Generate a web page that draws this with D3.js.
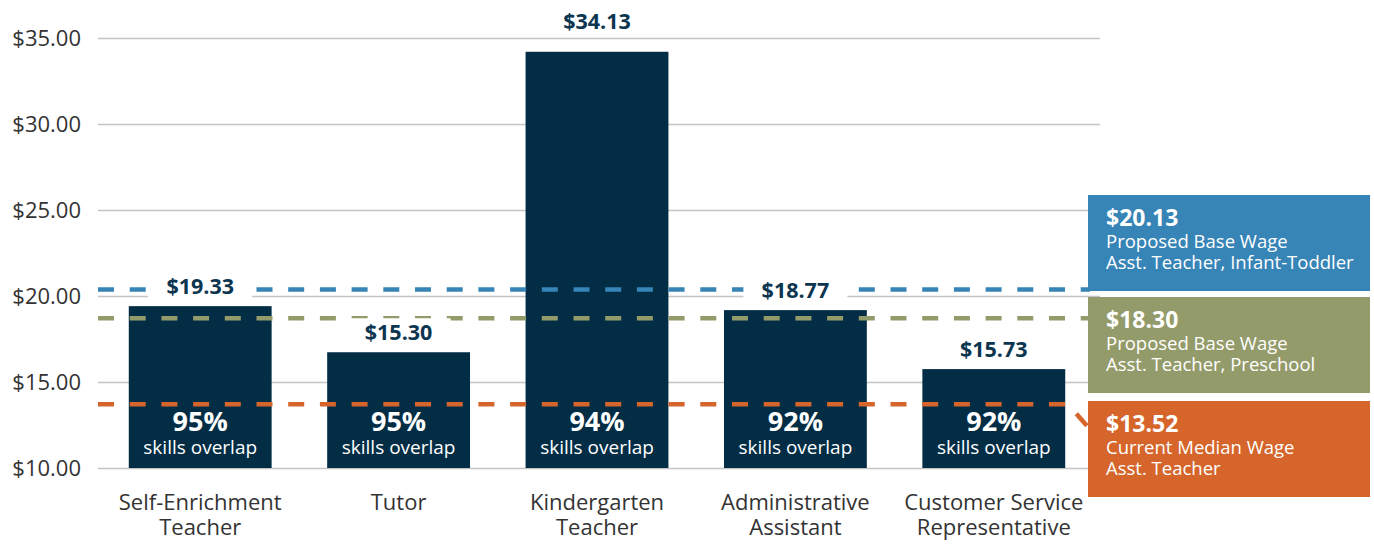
<!DOCTYPE html>
<html>
<head>
<meta charset="utf-8">
<script src="https://cdn.jsdelivr.net/npm/d3@7"></script>
<style>
  body { margin: 0; background: #fff; }
  svg { font-family: "Open Sans", Lato, sans-serif; }
</style>
</head>
<body>
<svg width="1374" height="544"></svg>
<script>
// chart data
const categories = [["Self-Enrichment", "Teacher"], ["Tutor"], ["Kindergarten", "Teacher"], ["Administrative", "Assistant"], ["Customer Service", "Representative"]];
const barValues = [19.41, 16.73, 34.2, 19.18, 15.75];
const barLabels = ["$19.33", "$15.30", "$34.13", "$18.77", "$15.73"];
const overlap = ["95%", "95%", "94%", "92%", "92%"];
const yTicks = [10, 15, 20, 25, 30, 35];

const refValues = [20.38, 18.71, 13.71];
const refLabels = ["$20.13", "$18.30", "$13.52"];
const refLine1 = ["Proposed Base Wage", "Proposed Base Wage", "Current Median Wage"];
const refLine2 = ["Asst. Teacher, Infant-Toddler", "Asst. Teacher, Preschool", "Asst. Teacher"];
const refColors = ["#3784b6", "#949b6a", "#d5652a"];

const svg = d3.select("svg");

const area = {left: 98, right: 1100, top: 38, bottom: 468};

const scX = d3.scaleBand()
              .domain(d3.range(categories.length))
              .range([101, 1093])
              .paddingInner(0.28)
              .paddingOuter(0.14);

const scY = d3.scaleLinear()
              .domain([10, 35])
              .range([area.bottom, area.top]);

// grid + y labels
const axisY = d3.axisLeft(scY)
                .tickValues(yTicks)
                .tickSize(-(area.right - area.left))
                .tickPadding(17)
                .tickFormat(d => "$" + d3.format(".2f")(d));

const gAxis = svg.append("g")
   .attr("transform", `translate(${area.left},0)`)
   .call(axisY);
gAxis.select(".domain").remove();
gAxis.selectAll("line").attr("stroke", "#c4c4c4").attr("stroke-width", 1.5);
gAxis.selectAll("text")
     .attr("fill", "#333")
     .style("font-size", "22px")
     .style("font-family", "'Open Sans', sans-serif");

// bars
svg.selectAll(".bar")
   .data(barValues)
   .enter()
   .append("rect")
   .attr("x", (d, i) => scX(i))
   .attr("y", d => scY(d))
   .attr("width", scX.bandwidth())
   .attr("height", d => scY(10) - scY(d))
   .style("fill", "#022d45");

// value label position
const labelY = (d) => {
    let y = scY(d) - 12;
    if (y < scY(35) + 6) y = scY(35) - 9;
    return y;
};

// reference dashed lines
const lineEnd = 1090;
refValues.forEach((v, i) => {
    let pts = [[area.left, scY(v)], [lineEnd, scY(v)]];
    if (i == 2) {
        pts = [[area.left, scY(v)], [1068, scY(v)], [1087, 426]];
    }
    svg.append("path")
       .attr("d", d3.line()(pts))
       .attr("fill", "none")
       .attr("stroke", refColors[i])
       .attr("stroke-width", 4.5)
       .attr("stroke-dasharray", "16,15.7");
});

// white backing behind value labels (stops short of the bar)
svg.selectAll(".lblbg")
   .data(barValues)
   .enter()
   .append("rect")
   .attr("x", (d, i) => scX(i) + scX.bandwidth() / 2 - 52)
   .attr("y", d => labelY(d) - 22)
   .attr("width", 104)
   .attr("height", d => Math.min(29, scY(d) - (labelY(d) - 22) - 4))
   .style("fill", "#fff");

svg.selectAll(".lbl")
   .data(barLabels)
   .enter()
   .append("text")
   .attr("x", (d, i) => scX(i) + scX.bandwidth() / 2)
   .attr("y", (d, i) => labelY(barValues[i]))
   .attr("text-anchor", "middle")
   .style("font-size", "21.5px")
   .style("font-weight", "bold")
   .style("fill", "#0c3550")
   .text(d => d);

// overlap texts inside bars
svg.selectAll(".pct")
   .data(overlap)
   .enter()
   .append("text")
   .attr("x", (d, i) => scX(i) + scX.bandwidth() / 2)
   .attr("y", scY(10) - 37)
   .attr("text-anchor", "middle")
   .style("font-size", "27px")
   .style("font-weight", "bold")
   .style("fill", "#fff")
   .text(d => d);

svg.selectAll(".ovl")
   .data(overlap)
   .enter()
   .append("text")
   .attr("x", (d, i) => scX(i) + scX.bandwidth() / 2)
   .attr("y", scY(10) - 14)
   .attr("text-anchor", "middle")
   .style("font-size", "19px")
   .style("fill", "#fff")
   .text("skills overlap");

// category labels, one text per line
const catLines = [];
categories.forEach((c, i) => c.forEach((t, j) => catLines.push({t: t, i: i, j: j})));
svg.selectAll(".cat")
   .data(catLines)
   .enter()
   .append("text")
   .attr("x", d => scX(d.i) + scX.bandwidth() / 2)
   .attr("y", d => 510 + d.j * 25)
   .attr("text-anchor", "middle")
   .style("font-size", "22px")
   .style("fill", "#333")
   .text(d => d.t);

// legend boxes on the right
const boxX = 1088, boxW = 282, boxH = 96;
const boxTops = [195, 297, 401];
refLabels.forEach((lab, i) => {
    const g = svg.append("g").attr("transform", `translate(${boxX},${boxTops[i]})`);
    g.append("rect")
     .attr("width", boxW)
     .attr("height", boxH)
     .style("fill", refColors[i]);
    g.append("text")
     .attr("x", 18).attr("y", 31)
     .style("font-size", "23px")
     .style("font-weight", "bold")
     .style("fill", "#fff")
     .text(lab);
    g.append("text")
     .attr("x", 18).attr("y", 53)
     .style("font-size", "18.5px")
     .style("fill", "#fff")
     .text(refLine1[i]);
    g.append("text")
     .attr("x", 18).attr("y", 74)
     .style("font-size", "18.5px")
     .style("fill", "#fff")
     .text(refLine2[i]);
});
</script>
</body>
</html>
